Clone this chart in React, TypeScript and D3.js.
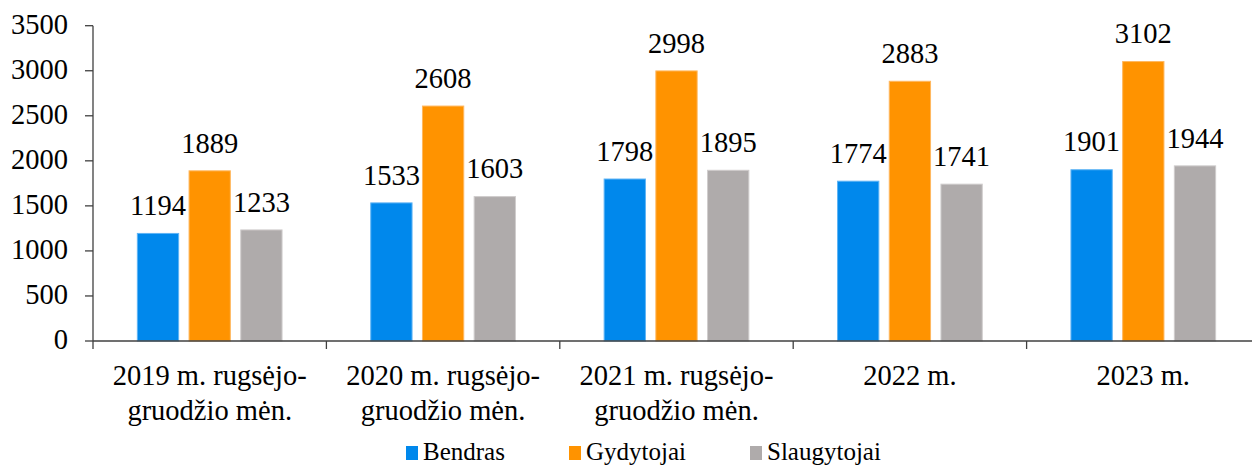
import React from "react";
import * as d3 from "d3";

const categories = [
  ["2019 m. rugsėjo-", "gruodžio mėn."],
  ["2020 m. rugsėjo-", "gruodžio mėn."],
  ["2021 m. rugsėjo-", "gruodžio mėn."],
  ["2022 m."],
  ["2023 m."],
];
const seriesNames = ["Bendras", "Gydytojai", "Slaugytojai"];
const bendras = [1194, 1533, 1798, 1774, 1901];
const gydytojai = [1889, 2608, 2998, 2883, 3102];
const slaugytojai = [1233, 1603, 1895, 1741, 1944];
const yTicks = [0, 500, 1000, 1500, 2000, 2500, 3000, 3500];
const colors = ["#0088EC", "#FF9300", "#AFABAB"];
const strokes = ["#5FB4F5", "#FFB860", "#CFCCCC"];

export default function App() {
  const W = 1252, H = 465;
  const left = 93, right = 1260, top = 25.7, bottom = 341;
  const font = '"Times New Roman", Tinos, "Liberation Serif", "DejaVu Serif", serif';
  const series = [bendras, gydytojai, slaugytojai];
  const x0 = d3.scaleBand<number>().domain(d3.range(categories.length)).range([left, right]).padding(0);
  const y = d3.scaleLinear().domain([0, 3500]).range([bottom, top]);
  const bw = 41.3, step = 51.7;
  const fs = 28.5;
  const ts = { fontFamily: font, fontSize: fs, fill: "#000" } as React.CSSProperties;
  const ls = { fontFamily: font, fontSize: 25, fill: "#000" } as React.CSSProperties;
  return (
    <svg width={W} height={H} style={{ position: "absolute", left: 0, top: 0, background: "#fff" }}>
      {categories.map((_, i) => {
        const cx = x0(i)! + x0.bandwidth() / 2;
        return series.map((s, j) => {
          const xc = cx + (j - 1) * step;
          return (
            <g key={`${i}-${j}`}>
              <rect x={xc - bw / 2} y={y(s[i])} width={bw} height={bottom - y(s[i])} fill={colors[j]} stroke={strokes[j]} strokeWidth={1} />
              <text x={xc} y={y(s[i]) - 18.3} textAnchor="middle" style={ts}>{s[i]}</text>
            </g>
          );
        });
      })}
      <line x1={left} x2={left} y1={top} y2={bottom} stroke="#404040" strokeWidth={1.3} />
      <line x1={left} x2={right} y1={bottom} y2={bottom} stroke="#404040" strokeWidth={1.3} />
      {yTicks.map((t) => (
        <g key={t}>
          <line x1={left - 8} x2={left} y1={y(t)} y2={y(t)} stroke="#404040" strokeWidth={1.3} />
          <text x={68} y={y(t) + 8} textAnchor="end" style={ts}>{t}</text>
        </g>
      ))}
      {d3.range(categories.length + 1).map((i) => {
        const xx = left + i * x0.bandwidth();
        return <line key={i} x1={xx} x2={xx} y1={bottom} y2={bottom + 8} stroke="#404040" strokeWidth={1.3} />;
      })}
      {categories.map((c, i) => {
        const cx = x0(i)! + x0.bandwidth() / 2;
        return (
          <text key={i} x={cx} textAnchor="middle" style={ts}>
            {c.map((line, k) => (
              <tspan key={k} x={cx} y={385 + k * 34.5}>{line}</tspan>
            ))}
          </text>
        );
      })}
      {seriesNames.map((n, j) => {
        const lx = [406, 569, 750][j];
        return (
          <g key={n}>
            <rect x={lx} y={446} width={12} height={14} fill={colors[j]} />
            <text x={lx + 17} y={460} style={ls}>{n}</text>
          </g>
        );
      })}
    </svg>
  );
}
